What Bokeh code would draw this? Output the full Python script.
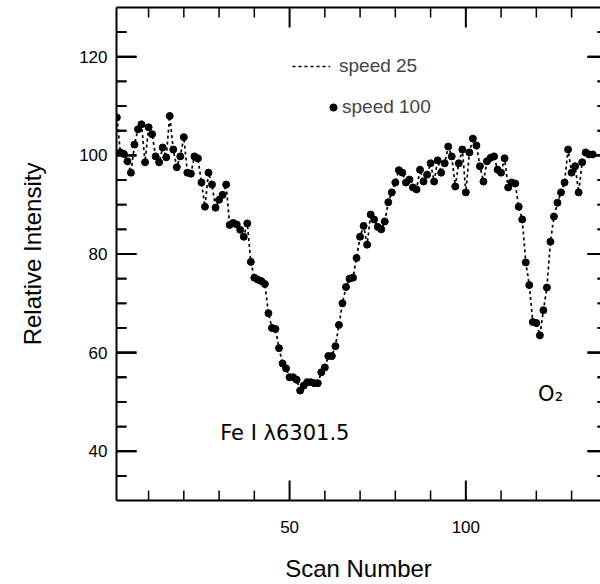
from bokeh.plotting import figure
from bokeh.models import Range1d, FixedTicker, LinearAxis, Legend, LegendItem, Label
from bokeh.embed import file_html
from bokeh.resources import INLINE

# ---- data ----
scan = list(range(1, 137))
speed100 = [
    107.7, 100.6, 100.3, 98.8, 96.5, 102.2, 105.3, 106.3, 98.6, 105.7,
    104.3, 99.8, 98.6, 101.6, 99.6, 108.0, 101.2, 97.6, 99.8, 103.7,
    96.5, 96.3, 99.8, 99.4, 94.5, 89.6, 96.5, 94.1, 89.4, 91.0,
    92.0, 94.1, 85.9, 86.3, 86.0, 84.9, 83.5, 86.2, 78.4, 75.2,
    74.8, 74.5, 73.9, 68.0, 65.0, 64.8, 60.9, 57.8, 56.8, 55.0,
    55.0, 54.5, 52.3, 53.3, 54.0, 54.0, 53.8, 53.8, 56.0, 57.0,
    59.3, 59.3, 61.3, 65.6, 70.0, 73.3, 75.0, 75.2, 79.2, 83.5,
    85.7, 81.9, 88.0, 87.0, 85.5, 85.0, 86.6, 90.5, 92.5, 94.5,
    97.0, 96.5, 94.5, 95.1, 93.5, 93.1, 97.1, 94.7, 96.1, 98.4,
    94.7, 99.0, 96.5, 98.4, 101.8, 99.8, 93.7, 98.4, 101.2, 92.5,
    100.6, 103.4, 102.0, 97.8, 94.7, 98.8, 99.5, 99.8, 97.1, 96.5,
    99.4, 93.5, 94.5, 94.3, 89.6, 87.0, 78.3, 73.7, 66.2, 66.0,
    63.5, 68.6, 73.2, 82.5, 87.6, 90.4, 92.5, 94.5, 101.2, 96.5,
    97.8, 92.5, 98.6, 100.6, 100.2, 100.2,
]
speed25 = list(speed100)

x_ticks = [50, 100]
x_minor = [10, 20, 30, 40, 60, 70, 80, 90, 110, 120, 130]
y_ticks = [40, 60, 80, 100, 120]
y_minor = [35, 45, 50, 55, 65, 70, 75, 85, 90, 95, 105, 110, 115, 125]

ann_text = ["Fe I λ6301.5", "O₂"]
ann_x = [30.3, 120.5]
ann_y = [43.6, 51.7]

FONT = "Liberation Sans"

# ---- layout ----
W, H = 600, 584
BL, BR, BT, BB = 116, 0, 7, 84
X0, X1 = 0.9, 138.2
Y0, Y1 = 30, 130
px_x = (W - BL - BR) / (X1 - X0)
px_y = (H - BT - BB) / (Y1 - Y0)
MAJ, MIN = 20, 10

p = figure(width=W, height=H, output_backend="svg", toolbar_location=None,
           x_range=Range1d(X0, X1), y_range=Range1d(Y0, Y1),
           min_border_left=BL, min_border_right=BR, min_border_top=BT,
           min_border_bottom=BB,
           x_axis_label="Scan Number", y_axis_label="Relative Intensity")
p.xgrid.visible = False
p.ygrid.visible = False
p.outline_line_color = None

line_r = p.line(scan, speed25, line_color="black", line_width=1.7, line_dash="3 3")
dot_r = p.scatter(scan, speed100, size=7, color="black")

# inward tick marks, derived from the tick lists
for ticks, length, width in [(x_ticks, MAJ, 2), (x_minor, MIN, 1.5)]:
    xs, ys = [], []
    for v in ticks:
        xs.append([v, v]); ys.append([Y0, Y0 + length / px_y])
        xs.append([v, v]); ys.append([Y1, Y1 - length / px_y])
    p.multi_line(xs, ys, line_color="black", line_width=width)

XR = X1 + 7 / px_x  # right axis sits just beyond the picture edge
for ticks, length, width in [(y_ticks, MAJ, 2.2), (y_minor, MIN, 1.8)]:
    lefts, rights, bottoms, tops = [], [], [], []
    half = width / 2 / px_y
    for v in ticks:
        lefts.append(X0); rights.append(X0 + length / px_x)
        bottoms.append(v - half); tops.append(v + half)
        lefts.append(XR - length / px_x); rights.append(XR)
        bottoms.append(v - half); tops.append(v + half)
    p.quad(left=lefts, right=rights, bottom=bottoms, top=tops,
           fill_color="black", line_color=None)
    # same ticks again as dash markers
    mx = [X0 + length / 2 / px_x] * len(ticks) + [XR - length / 2 / px_x] * len(ticks)
    p.scatter(mx, list(ticks) * 2, marker="dash", size=length,
              line_color="black", line_width=width)


def style_axis(ax, ticks):
    ax.ticker = FixedTicker(ticks=ticks, minor_ticks=[])
    ax.axis_line_width = 2
    ax.axis_line_color = "black"
    ax.major_tick_in = 0
    ax.major_tick_out = 0
    ax.minor_tick_in = 0
    ax.minor_tick_out = 0
    ax.major_label_text_font = FONT
    ax.major_label_text_font_size = "17px"
    ax.major_label_text_color = "black"
    ax.axis_label_text_font = FONT
    ax.axis_label_text_font_size = "24px"
    ax.axis_label_text_font_style = "normal"
    ax.axis_label_text_color = "black"


style_axis(p.xaxis[0], x_ticks)
p.xaxis[0].major_label_standoff = 20
p.xaxis[0].axis_label_standoff = 19
style_axis(p.yaxis[0], y_ticks)
p.yaxis[0].major_label_standoff = 9
p.yaxis[0].axis_label_standoff = 30

top = LinearAxis(ticker=FixedTicker(ticks=[], minor_ticks=[]),
                 axis_line_width=2, axis_line_color="black",
                 major_tick_in=0, major_tick_out=0,
                 minor_tick_in=0, minor_tick_out=0)
p.add_layout(top, "above")

leg1 = Legend(items=[LegendItem(label="speed 25", renderers=[line_r])],
              location=(176, 423), padding=0, margin=0, spacing=0,
              glyph_width=38, glyph_height=18, label_height=18,
              label_standoff=9, label_text_font=FONT,
              label_text_font_size="19px", border_line_color=None,
              background_fill_alpha=0)
leg2 = Legend(items=[LegendItem(label="speed 100", renderers=[dot_r])],
              location=(208, 382), padding=0, margin=0, spacing=0,
              glyph_width=18, glyph_height=18, label_height=18,
              label_standoff=-3, label_text_font=FONT,
              label_text_font_size="19px", border_line_color=None,
              background_fill_alpha=0)
p.add_layout(leg1, "center")
p.add_layout(leg2, "center")

for t, x, y in zip(ann_text, ann_x, ann_y):
    p.add_layout(Label(x=x, y=y, text=t, text_font="DejaVu Sans",
                       text_font_size="21px", text_baseline="middle",
                       text_color="black"))

open("out.html", "w").write(file_html(p, INLINE))
